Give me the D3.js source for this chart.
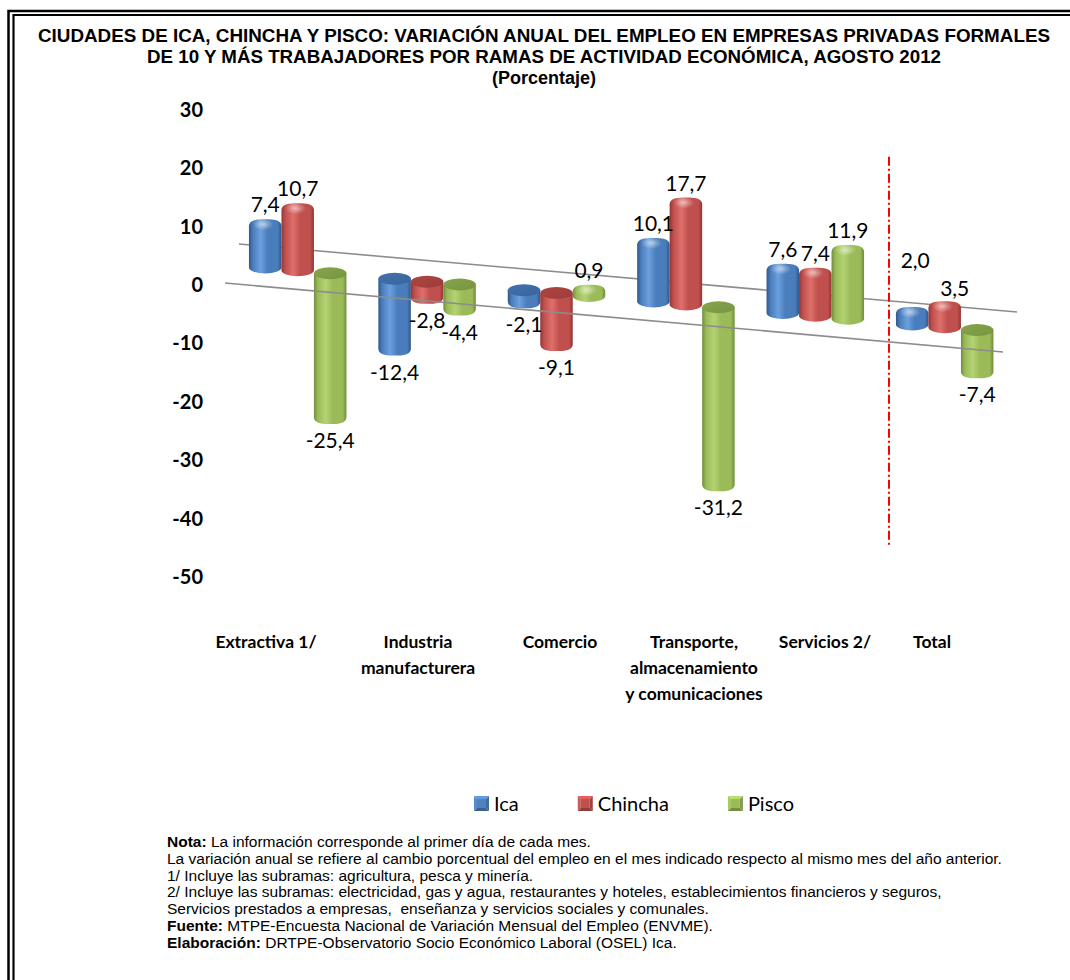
<!DOCTYPE html>
<html><head><meta charset="utf-8">
<script src="https://cdn.jsdelivr.net/npm/d3@7/dist/d3.min.js"></script>
<style>body{margin:0;background:#fff} svg{display:block}</style>
</head><body>
<svg id="chart" width="1070" height="980"></svg>
<script>
// ---------------- DATA ----------------
const categories = ["Extractiva 1/", "Industria manufacturera", "Comercio", "Transporte, almacenamiento y comunicaciones", "Servicios 2/", "Total"];
const categoryLines = [["Extractiva 1/"], ["Industria", "manufacturera"], ["Comercio"], ["Transporte,", "almacenamiento", "y comunicaciones"], ["Servicios 2/"], ["Total"]];
const seriesNames = ["Ica", "Chincha", "Pisco"];
const icaValues = [7.4, -12.4, -2.1, 10.1, 7.6, 2.0];
const chinchaValues = [10.7, -2.8, -9.1, 17.7, 7.4, 3.5];
const piscoValues = [-25.4, -4.4, 0.9, -31.2, 11.9, -7.4];
const yTicks = [30, 20, 10, 0, -10, -20, -30, -40, -50];
const titleLines = [
  "CIUDADES DE ICA, CHINCHA Y PISCO: VARIACIÓN ANUAL DEL EMPLEO EN EMPRESAS PRIVADAS FORMALES",
  "DE 10 Y MÁS TRABAJADORES POR RAMAS DE ACTIVIDAD ECONÓMICA, AGOSTO 2012",
  "(Porcentaje)"
];
const noteLines = [
  ["Nota:", " La información corresponde al primer día de cada mes."],
  ["", "La variación anual se refiere al cambio porcentual del empleo en el mes indicado respecto al mismo mes del año anterior."],
  ["", "1/ Incluye las subramas: agricultura, pesca y minería."],
  ["", "2/ Incluye las subramas: electricidad, gas y agua, restaurantes y hoteles, establecimientos financieros y seguros,"],
  ["", "Servicios prestados a empresas,  enseñanza y servicios sociales y comunales."],
  ["Fuente:", " MTPE-Encuesta Nacional de Variación Mensual del Empleo (ENVME)."],
  ["Elaboración:", " DRTPE-Observatorio Socio Económico Laboral (OSEL) Ica."]
];

// ---------------- STYLE ----------------
const palette = {
  Ica:     {dark: "#30578a", mid: "#4a7dbb", light: "#6c9fdd", top: "#3d6aa3", key: "#4f81bd"},
  Chincha: {dark: "#933634", mid: "#c0504d", light: "#df6f6b", top: "#a3403d", key: "#c0504d"},
  Pisco:   {dark: "#718d3b", mid: "#9bbb59", light: "#b3d373", top: "#7e9b45", key: "#9bbb59"}
};
const LATO = "Lato, 'Open Sans', sans-serif";
const ARIAL = "'Liberation Sans', Arial, sans-serif";

const svg = d3.select("#chart");
const defs = svg.append("defs");

seriesNames.forEach(s => {
  const p = palette[s];
  const g = defs.append("linearGradient").attr("id", "body-" + s).attr("x1", 0).attr("x2", 1).attr("y1", 0).attr("y2", 0);
  [[0, p.dark], [0.12, p.mid], [0.36, p.light], [0.58, p.mid], [0.88, p.mid], [1, p.dark]]
    .forEach(([o, c]) => g.append("stop").attr("offset", o).attr("stop-color", c));
  const t = defs.append("linearGradient").attr("id", "top-" + s).attr("x1", 0).attr("x2", 1).attr("y1", 0).attr("y2", 1);
  [[0, d3.color(p.top).brighter(0.2)], [1, d3.color(p.top).darker(0.15)]]
    .forEach(([o, c]) => t.append("stop").attr("offset", o).attr("stop-color", c));
});
const hl = defs.append("radialGradient").attr("id", "hl").attr("cx", 0.5).attr("cy", 0.5).attr("r", 0.5);
hl.append("stop").attr("offset", 0).attr("stop-color", "#fff").attr("stop-opacity", 0.55);
hl.append("stop").attr("offset", 1).attr("stop-color", "#fff").attr("stop-opacity", 0);

// ---------------- FRAME ----------------
svg.append("path").attr("d", "M8.5,980 V11 H1070").attr("fill", "none").attr("stroke", "#000").attr("stroke-width", 2.5);
svg.append("path").attr("d", "M13.5,980 V15 H1070").attr("fill", "none").attr("stroke", "#000").attr("stroke-width", 2.2);

// ---------------- TITLE ----------------
const titleSpec = [{y: 42, w: 1012}, {y: 63, w: 794}, {y: 84, w: null}];
titleLines.forEach((t, i) => {
  const tx = svg.append("text").attr("x", 544).attr("y", titleSpec[i].y)
    .attr("text-anchor", "middle").attr("font-family", ARIAL).attr("font-weight", "bold")
    .attr("font-size", 18).attr("fill", "#000").text(t);
  if (titleSpec[i].w) tx.attr("textLength", titleSpec[i].w).attr("lengthAdjust", "spacingAndGlyphs");
});

// ---------------- SCALES ----------------
const x = d3.scaleBand().domain(categories).range([233, 1009.4]).paddingInner(0.2465).paddingOuter(0.12325);
const xs = d3.scaleBand().domain(seriesNames).range([0, x.bandwidth()]);
const y = d3.scaleLinear().domain([-50, 30]).range([577, 110]);        // axis labels
const h = d3.scaleLinear().domain([0, 10]).range([0, 57]);             // bar length (perspective-reduced)
const floorBack = d3.scaleLinear().domain([239, 1017]).range([244, 312]);
const floorFront = d3.scaleLinear().domain([225, 1003]).range([283, 352]);
const base = px => (floorBack(px) + floorFront(px)) / 2 + 1;
const catLabelX = d3.scaleOrdinal().domain(categories).range([266, 418, 560, 694, 825, 932]);
const fmt = v => d3.format(".1f")(v).replace(".", ",").replace("−", "-");

// ---------------- Y AXIS ----------------
const ax = svg.append("g").attr("transform", "translate(203,0)")
  .call(d3.axisLeft(y).tickValues(yTicks).tickSize(0).tickPadding(0).tickFormat(d3.format("d")));
ax.select(".domain").remove();
ax.selectAll("text").attr("font-family", LATO).attr("font-weight", "bold").attr("font-size", 20)
  .attr("fill", "#000").text(d => String(d));

// ---------------- FLOOR (back edge) ----------------
svg.append("line").attr("x1", 239).attr("y1", floorBack(239)).attr("x2", 1017).attr("y2", floorBack(1017))
  .attr("stroke", "#8c8c8c").attr("stroke-width", 1.6);

// ---------------- BARS ----------------
const valuesBySeries = {Ica: icaValues, Chincha: chinchaValues, Pisco: piscoValues};
const bars = [];
categories.forEach((c, i) => seriesNames.forEach(s => bars.push({cat: c, series: s, value: valuesBySeries[s][i]})));

const ry = 6, cap = 7;
const gBars = svg.append("g");
const geo = [];
bars.forEach(d => {
  const w = xs.bandwidth(), x0 = x(d.cat) + xs(d.series), cx = x0 + w / 2;
  const b = base(cx), hp = h(Math.abs(d.value));
  const r = Math.min(13, w / 2);
  const g = gBars.append("g");
  if (d.value >= 0) {
    const yt = b - hp + 1;
    const p = `M${x0},${b} L${x0},${yt} Q${x0},${yt - cap} ${x0 + r},${yt - cap} L${x0 + w - r},${yt - cap} Q${x0 + w},${yt - cap} ${x0 + w},${yt} L${x0 + w},${b} A${w / 2},${ry} 0 0 1 ${x0},${b} Z`;
    g.append("path").attr("d", p).attr("fill", `url(#body-${d.series})`);
    g.append("ellipse").attr("cx", cx - 2).attr("cy", yt - 2).attr("rx", w * 0.32).attr("ry", 6).attr("fill", "url(#hl)");
    geo.push({d, cx, top: yt - cap, bottom: b + ry});
  } else {
    const yb = b + hp - 1;
    const p = `M${x0},${b} L${x0},${yb} Q${x0},${yb + cap} ${x0 + r},${yb + cap} L${x0 + w - r},${yb + cap} Q${x0 + w},${yb + cap} ${x0 + w},${yb} L${x0 + w},${b} Z`;
    g.append("path").attr("d", p).attr("fill", `url(#body-${d.series})`);
    g.append("ellipse").attr("cx", cx).attr("cy", b).attr("rx", w / 2).attr("ry", ry).attr("fill", `url(#top-${d.series})`);
    geo.push({d, cx, top: b - ry, bottom: yb + cap});
  }
});

// ---------------- FLOOR (front edge) ----------------
svg.append("line").attr("x1", 225).attr("y1", floorFront(225)).attr("x2", 1003).attr("y2", floorFront(1003))
  .attr("stroke", "#8c8c8c").attr("stroke-width", 1.6);

// ---------------- SEPARATOR ----------------
const sepX = (x("Servicios 2/") + x.bandwidth() + x("Total")) / 2 + 9;
svg.append("line").attr("x1", sepX).attr("x2", sepX).attr("y1", y(22)).attr("y2", y(-45))
  .attr("stroke", "#ff0000").attr("stroke-width", 2).attr("stroke-dasharray", "9,3,2,3");

// ---------------- DATA LABELS ----------------
const labelNudge = {"Total|Ica": {dx: 3, dy: -32}, "Total|Chincha": {dx: 10, dy: 2}};
geo.forEach(g => {
  const n = labelNudge[g.d.cat + "|" + g.d.series] || {dx: 0, dy: 0};
  const ly = g.d.value >= 0 ? g.top - 7 : g.bottom + 24;
  svg.append("text").attr("x", g.cx + n.dx).attr("y", ly + n.dy).attr("text-anchor", "middle")
    .attr("font-family", LATO).attr("font-size", 21).attr("fill", "#000").text(fmt(g.d.value));
});

// ---------------- CATEGORY LABELS ----------------
categories.forEach((c, i) => {
  const t = svg.append("text").attr("text-anchor", "middle").attr("font-family", LATO)
    .attr("font-weight", "bold").attr("font-size", 17.5).attr("fill", "#000");
  categoryLines[i].forEach((ln, j) => t.append("tspan").attr("x", catLabelX(c)).attr("y", 648 + j * 26).text(ln));
});

// ---------------- LEGEND ----------------
let lx = 474;
const ly0 = 796, ks = 15;
seriesNames.forEach(s => {
  const p = palette[s];
  const g = svg.append("g").attr("transform", `translate(${lx},${ly0})`);
  const c = d3.color(p.key);
  g.append("polygon").attr("points", `0,0 ${ks},0 ${ks - 3},3 3,3`).attr("fill", c.brighter(0.5));
  g.append("polygon").attr("points", `0,0 3,3 3,${ks - 3} 0,${ks}`).attr("fill", c.brighter(0.2));
  g.append("polygon").attr("points", `${ks},0 ${ks},${ks} ${ks - 3},${ks - 3} ${ks - 3},3`).attr("fill", c.darker(0.5));
  g.append("polygon").attr("points", `0,${ks} ${ks},${ks} ${ks - 3},${ks - 3} 3,${ks - 3}`).attr("fill", c.darker(0.8));
  g.append("rect").attr("x", 3).attr("y", 3).attr("width", ks - 6).attr("height", ks - 6).attr("fill", c);
  const t = g.append("text").attr("x", ks + 5).attr("y", 15).attr("font-family", LATO).attr("font-size", 20)
    .attr("fill", "#000").text(s);
  lx += ks + 5 + t.node().getComputedTextLength() + 59;
});

// ---------------- NOTES ----------------
noteLines.forEach((ln, i) => {
  const t = svg.append("text").attr("x", 167).attr("y", 847 + i * 16.8).attr("font-family", ARIAL)
    .attr("font-size", 15.5).attr("fill", "#000").attr("xml:space", "preserve").style("white-space", "pre");
  if (ln[0]) t.append("tspan").attr("font-weight", "bold").text(ln[0]);
  t.append("tspan").text(ln[1]);
});
</script>
</body></html>
